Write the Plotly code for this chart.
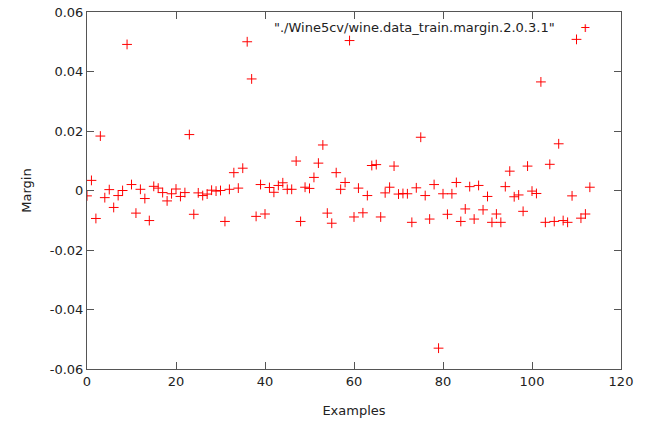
import plotly.graph_objects as go

margins = [
    -0.0018, 0.0034, -0.0094, 0.0183, -0.0024, 0.0003, -0.0057, -0.0017, 0.0000, 0.0491,
    0.0020, -0.0076, 0.0004, -0.0027, -0.0101, 0.0014, 0.0008, -0.0007, -0.0035, -0.0011,
    0.0005, -0.0020, -0.0007, 0.0188, -0.0080, -0.0008, -0.0017, -0.0012, 0.0001, -0.0002,
    0.0000, -0.0104, 0.0004, 0.0060, 0.0008, 0.0075, 0.0500, 0.0375, -0.0087, 0.0020,
    -0.0079, 0.0010, -0.0006, 0.0017, 0.0026, 0.0004, 0.0004, 0.0099, -0.0104, 0.0011,
    0.0007, 0.0044, 0.0092, 0.0153, -0.0076, -0.0110, 0.0060, 0.0004, 0.0027, 0.0504,
    -0.0089, 0.0008, -0.0075, -0.0017, 0.0084, 0.0087, -0.0089, -0.0008, 0.0011, 0.0082,
    -0.0012, -0.0010, -0.0011, -0.0107, 0.0009, 0.0179, -0.0017, -0.0096, 0.0020, -0.0530,
    -0.0011, -0.0080, -0.0011, 0.0027, -0.0104, -0.0062, 0.0013, -0.0096, 0.0017, -0.0065,
    -0.0020, -0.0107, -0.0079, -0.0107, 0.0013, 0.0065, -0.0021, -0.0015, -0.0070, 0.0082,
    -0.0002, -0.0010, 0.0365, -0.0107, 0.0088, -0.0104, 0.0157, -0.0101, -0.0107, -0.0018,
    0.0508, -0.0093, -0.0079, 0.0011,
]
examples = list(range(len(margins)))

x_ticks = [0, 20, 40, 60, 80, 100, 120]
y_ticks = [-0.06, -0.04, -0.02, 0, 0.02, 0.04, 0.06]
y_tick_text = ["-0.06", "-0.04", "-0.02", "0", "0.02", "0.04", "0.06"]
legend_label = '"./Wine5cv/wine.data_train.margin.2.0.3.1"'

FONT = "DejaVu Sans"
TXT = "#222222"
AXC = "#555555"
FS = 13

fig = go.Figure()
fig.add_trace(go.Scatter(
    x=examples, y=margins, mode="markers",
    marker=dict(symbol="cross-thin-open", size=7, color="red",
                line=dict(color="red", width=1)),
    showlegend=False, hoverinfo="x+y",
))

axis_common = dict(
    showgrid=False, zeroline=False, showline=True, linecolor=AXC, linewidth=1,
    mirror="ticks", ticks="inside", ticklen=7, tickcolor=AXC, tickwidth=1,
    tickfont=dict(family=FONT, size=FS, color=TXT), automargin=False,
)

fig.update_layout(
    width=658, height=426,
    margin=dict(l=87, r=37, t=12, b=57),
    paper_bgcolor="white", plot_bgcolor="white",
    font=dict(family=FONT, size=FS, color=TXT),
    xaxis=dict(range=[0, 120], tickvals=x_ticks,
               title=dict(text="Examples", standoff=18,
                          font=dict(family=FONT, size=FS, color=TXT)),
               **axis_common),
    yaxis=dict(range=[-0.06, 0.06], tickvals=y_ticks, ticktext=y_tick_text,
               title=dict(text="Margin", standoff=15,
                          font=dict(family=FONT, size=FS, color=TXT)),
               **axis_common),
    annotations=[
        dict(x=0.88, y=0.957, xref="paper", yref="paper", text=legend_label,
             showarrow=False, xanchor="right", yanchor="middle",
             font=dict(family=FONT, size=FS, color=TXT)),
        dict(x=0.9326, y=0.957, xref="paper", yref="paper", text="+",
             showarrow=False, xanchor="center", yanchor="middle",
             font=dict(family=FONT, size=13, color="red")),
    ],
)

fig.write_html("out.html")
